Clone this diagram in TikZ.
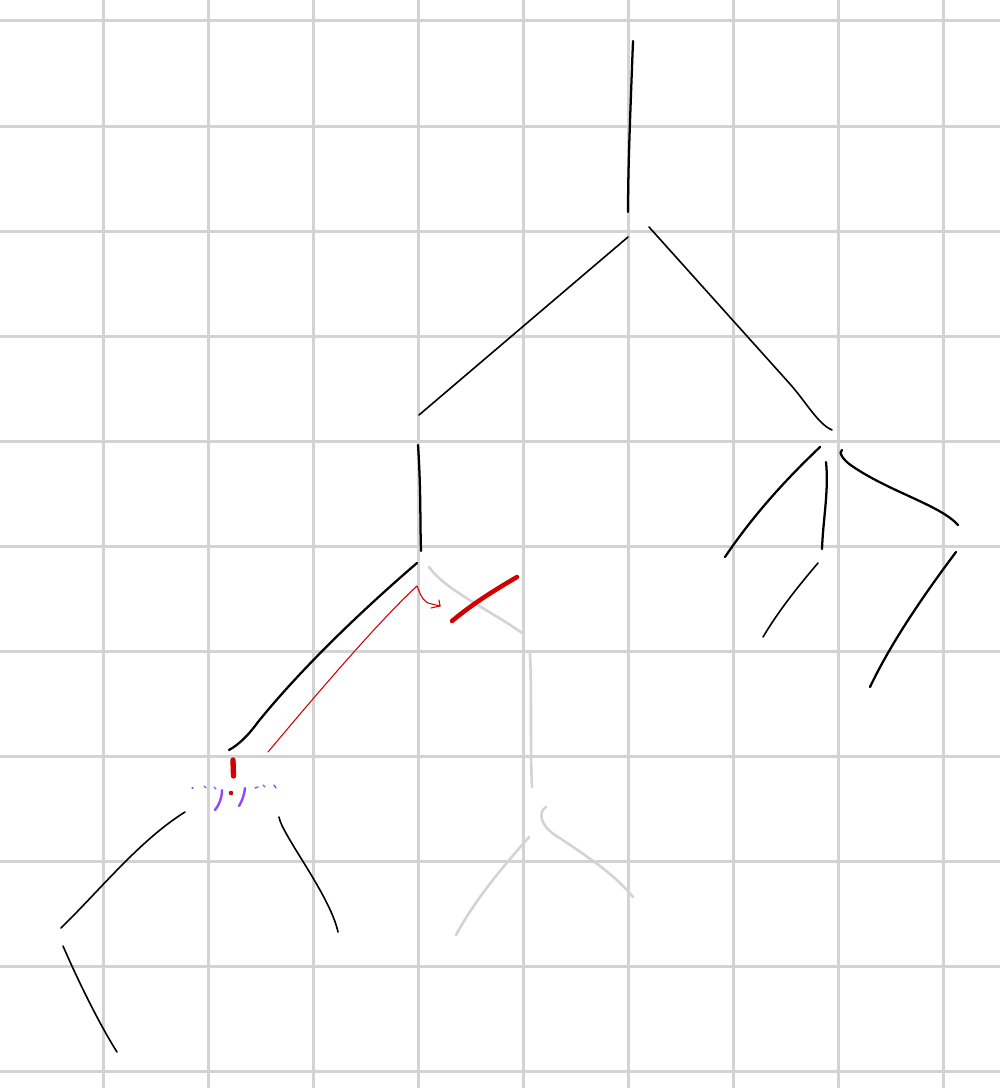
\documentclass[tikz,border=0pt]{standalone}
\definecolor{gridgray}{RGB}{211,211,211}
\definecolor{inkred}{RGB}{210,0,0}
\definecolor{inkpurple}{RGB}{145,70,255}
\begin{document}
\begin{tikzpicture}[x=0.75pt,y=-0.75pt,
  gridline/.style={draw=gridgray,line width=2.25pt},
  ink/.style={draw=black,line width=1.7pt,line cap=round},
  thinink/.style={draw=black,line width=1.2pt,line cap=round},
  ghost/.style={draw=gridgray,line width=1.9pt,line cap=round},
  redthin/.style={draw=inkred,line width=0.8pt,line cap=round,line join=round},
  redthick/.style={draw=inkred,line width=3.4pt,line cap=round},
  purp/.style={draw=inkpurple,line width=1.8pt,line cap=round}]
\useasboundingbox (0,0) rectangle (1000,1088);
\fill[white] (0,0) rectangle (1000,1088);
% grid
\foreach \k in {0,...,8} {\draw[gridline] ({103+105*\k},0) -- ({103+105*\k},1088);}
\foreach \k in {0,...,10} {\draw[gridline] (0,{21+105*\k}) -- (1000,{21+105*\k});}
% grey strokes
\draw[ghost] (429,567) .. controls (445,590) and (490,610) .. (522,633);
\draw[ghost] (530,653) .. controls (532,700) and (530,750) .. (532,787);
\draw[ghost] (546,807) .. controls (538,812) and (540,825) .. (555,835) .. controls (590,858) and (615,875) .. (633,897);
\draw[ghost] (529,837) .. controls (500,870) and (475,900) .. (456,935);
% black tree
\draw[ink] (633,41) .. controls (630,120) and (628,170) .. (628,212);
\draw[thinink] (628,237) -- (419,415);
\draw[thinink] (649,227) -- (790,384) .. controls (806,402) and (818,424) .. (832,430);
\draw[ink] (418,445) .. controls (421,490) and (420,520) .. (421,551);
\draw[ink] (820,447) .. controls (780,485) and (750,520) .. (725,557);
\draw[ink] (826,462) .. controls (829,490) and (823,520) .. (822,549);
\draw[ink] (842,450) .. controls (838,452) and (843,460) .. (852,466) .. controls (890,492) and (940,505) .. (958,525);
\draw[thinink] (818,563) .. controls (795,590) and (778,612) .. (763,637);
\draw[ink] (956,552) .. controls (920,600) and (890,645) .. (870,687);
\draw[ink] (417,563) .. controls (360,612) and (300,670) .. (258,722) .. controls (247,737) and (238,745) .. (229,750);
\draw[thinink] (185,812) .. controls (140,840) and (100,890) .. (61,928);
\draw[thinink] (63,946) .. controls (80,985) and (100,1025) .. (117,1052);
\draw[thinink] (279,817) .. controls (282,835) and (330,895) .. (338,932);
% red
\draw[redthin] (268,752) .. controls (320,690) and (380,620) .. (417,586) .. controls (420,592) and (420,598) .. (428,603) -- (440,606);
\draw[redthin] (440,606) -- (439,600);
\draw[redthin] (440,606) -- (431,608);
\draw[redthick] (452,621) .. controls (475,602) and (495,590) .. (517,577);
\draw[redthick,line width=4pt] (233,760) -- (233.5,776);
\fill[inkred] (231,793) circle (2.3);
% purple
\draw[purp] (222,790) .. controls (222,798) and (219,805) .. (215,810);
\draw[purp] (245,788) .. controls (244,796) and (242,801) .. (239,806);
\draw[purp,line width=1pt] (192,788) -- (193,788);
\draw[purp,line width=1pt] (204,786) -- (206,788);
\draw[purp,line width=1pt] (214,787) -- (216,789);
\draw[purp,line width=1pt] (255,788) -- (258,787);
\draw[purp,line width=1pt] (263,785) -- (265,787);
\draw[purp,line width=1pt] (274,785) -- (276,788);
\end{tikzpicture}
\end{document}
